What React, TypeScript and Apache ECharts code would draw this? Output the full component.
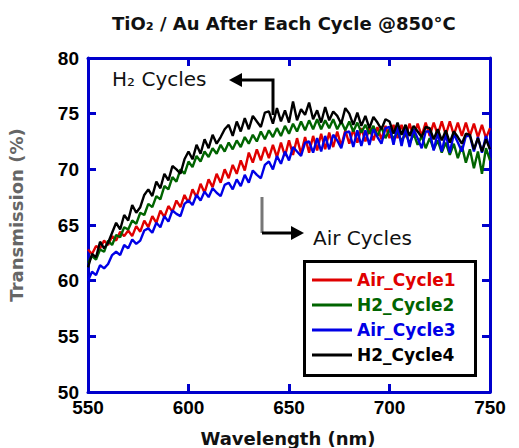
import React, { useEffect, useRef } from "react";
import * as echarts from "echarts";

// Sampling grid (nm), 2 nm steps from 550 to 750
const wavelengths: number[] = Array.from({ length: 101 }, (_, i) => 550 + i * 2);

const seriesNames = ["Air_Cycle1", "H2_Cycle2", "Air_Cycle3", "H2_Cycle4"];
const seriesColors = ["#e00000", "#006400", "#0000e6", "#000000"];

const airCycle1: number[] = [
  62.8, 62.4, 63.1, 62.9, 63.6, 63.2, 64.0, 63.6, 64.4, 64.0,
  64.5, 64.0, 64.9, 64.4, 65.4, 64.8, 65.8, 65.2, 66.3, 65.7,
  66.7, 66.2, 67.2, 66.6, 67.7, 67.0, 68.2, 67.5, 68.7, 67.9,
  69.1, 68.4, 69.6, 68.8, 70.0, 69.2, 70.4, 69.6, 70.8, 69.9,
  71.5, 70.6, 71.8, 70.8, 72.0, 71.0, 72.2, 71.1, 72.4, 71.2,
  72.6, 71.3, 72.8, 71.4, 72.9, 71.5, 73.0, 71.7, 73.2, 71.8,
  73.3, 72.0, 73.4, 72.1, 73.5, 72.3, 73.6, 72.4, 73.7, 72.5,
  73.7, 72.6, 73.8, 72.7, 73.9, 72.8, 74.0, 72.8, 74.0, 72.9,
  74.1, 72.9, 74.1, 73.0, 74.2, 73.0, 74.2, 73.1, 74.3, 73.1,
  74.3, 73.1, 74.2, 73.0, 74.2, 73.0, 74.1, 72.9, 74.0, 72.8,
  73.7,
];

const h2Cycle2: number[] = [
  61.6, 62.2, 61.9, 62.8, 62.6, 63.6, 63.2, 64.1, 63.9, 64.8,
  64.6, 65.4, 65.1, 66.1, 65.9, 66.9, 66.6, 67.6, 67.3, 68.5,
  68.2, 69.3, 68.9, 70.0, 69.6, 70.7, 70.2, 71.2, 70.7, 71.6,
  71.1, 71.9, 71.4, 72.2, 71.6, 72.4, 71.8, 72.6, 72.0, 72.9,
  72.3, 73.1, 72.5, 73.4, 72.7, 73.5, 72.9, 73.7, 73.0, 73.9,
  73.2, 74.1, 73.4, 74.3, 73.5, 74.4, 73.6, 74.5, 73.6, 74.4,
  73.7, 74.5, 73.6, 74.3, 73.5, 74.3, 73.4, 74.2, 73.3, 74.0,
  73.2, 73.9, 73.0, 73.8, 72.8, 73.6, 72.7, 73.4, 72.5, 73.3,
  72.3, 73.2, 72.2, 73.0, 71.9, 72.8, 71.8, 72.6, 71.5, 72.4,
  71.3, 72.3, 71.0, 72.1, 70.6, 71.8, 70.1, 71.6, 69.6, 71.9,
  70.8,
];

const airCycle3: number[] = [
  60.0, 60.8, 60.5, 61.4, 61.1, 61.5, 62.3, 62.6, 62.3, 63.2,
  62.9, 63.7, 63.3, 63.6, 64.5, 64.7, 64.3, 65.2, 64.8, 65.8,
  65.3, 66.3, 66.0, 65.8, 66.9, 67.2, 66.8, 67.7, 67.2, 68.0,
  67.5, 68.3, 67.9, 67.6, 68.6, 68.8, 68.2, 69.1, 68.5, 69.5,
  68.8, 69.9, 69.5, 69.2, 70.4, 70.7, 70.0, 71.2, 70.5, 71.6,
  70.8, 72.0, 71.6, 71.2, 72.4, 72.5, 71.5, 72.8, 71.6, 73.0,
  71.8, 73.1, 72.6, 71.9, 73.3, 73.4, 72.0, 73.5, 72.1, 73.5,
  72.2, 73.6, 72.9, 72.3, 73.7, 73.8, 72.2, 73.9, 72.1, 73.7,
  72.0, 73.6, 72.8, 71.9, 73.4, 73.4, 71.7, 73.3, 71.6, 73.2,
  71.5, 73.2, 72.4, 71.6, 73.0, 73.0, 71.6, 72.9, 71.5, 73.0,
  71.8,
];

const h2Cycle4: number[] = [
  61.2, 62.4, 62.1, 63.5, 62.9, 63.4, 64.3, 65.2, 64.6, 65.9,
  65.4, 66.8, 66.1, 66.6, 67.7, 68.2, 67.6, 68.9, 68.3, 69.6,
  69.0, 70.3, 70.0, 69.6, 70.9, 71.6, 70.9, 72.2, 71.4, 72.7,
  71.9, 73.1, 72.3, 72.9, 73.6, 74.0, 73.0, 74.3, 73.4, 74.6,
  73.6, 74.8, 74.3, 73.8, 75.1, 75.2, 74.1, 75.5, 74.3, 75.3,
  74.2, 76.1, 74.4, 75.4, 74.9, 76.0, 74.5, 75.3, 74.2, 75.6,
  74.4, 75.2, 74.8, 74.1, 75.5, 75.0, 74.0, 75.1, 73.9, 74.8,
  73.7, 74.7, 74.2, 73.6, 74.5, 74.3, 73.2, 74.2, 73.1, 74.0,
  73.0, 73.9, 73.4, 72.9, 73.8, 73.7, 72.7, 73.6, 72.6, 73.5,
  72.4, 73.4, 72.9, 72.3, 73.2, 73.1, 71.8, 72.8, 71.6, 72.7,
  71.8,
];

const seriesValues = [airCycle1, h2Cycle2, airCycle3, h2Cycle4];

const AXIS_BLUE = "#0000cc";
const SANS = "DejaVu Sans";
const ARIAL = "Liberation Sans";

export default function App() {
  const ref = useRef<HTMLDivElement>(null);

  useEffect(() => {
    if (!ref.current) return;
    const chart = echarts.init(ref.current, null, { renderer: "svg" });

    const frameLine = { show: true, onZero: false, lineStyle: { color: AXIS_BLUE, width: 3 } };
    const frameTick = { show: true, inside: true, length: 8, lineStyle: { color: AXIS_BLUE, width: 3 } };
    const tickFont = { fontFamily: ARIAL, fontWeight: "bold" as const, fontSize: 19, color: "#000" };

    chart.setOption({
      animation: false,
      backgroundColor: "#fff",
      title: {
        text: "TiO₂ / Au After Each Cycle @850°C",
        left: 107,
        top: 9,
        textStyle: { fontFamily: SANS, fontWeight: "bold", fontSize: 18, color: "#111" },
      },
      grid: { left: 88, right: 29, top: 58, bottom: 56 },
      xAxis: [
        {
          type: "value",
          position: "bottom",
          min: 550,
          max: 750,
          interval: 50,
          axisLine: frameLine,
          axisTick: frameTick,
          axisLabel: { ...tickFont, margin: 6 },
          splitLine: { show: false },
        },
        {
          type: "value",
          position: "top",
          min: 550,
          max: 750,
          interval: 50,
          axisLine: frameLine,
          axisTick: frameTick,
          axisLabel: { show: false },
          splitLine: { show: false },
        },
      ],
      yAxis: [
        {
          type: "value",
          position: "left",
          min: 50,
          max: 80,
          interval: 5,
          axisLine: frameLine,
          axisTick: frameTick,
          axisLabel: { ...tickFont, margin: 9 },
          splitLine: { show: false },
        },
        {
          type: "value",
          position: "right",
          min: 50,
          max: 80,
          interval: 5,
          axisLine: frameLine,
          axisTick: frameTick,
          axisLabel: { show: false },
          splitLine: { show: false },
        },
      ],
      legend: {
        orient: "vertical",
        left: 312,
        top: 270,
        padding: 0,
        itemGap: 5,
        itemWidth: 40,
        itemHeight: 3,
        icon: "rect",
        data: seriesNames.map((name, i) => ({
          name,
          textStyle: { color: seriesColors[i] },
        })),
        textStyle: { fontFamily: SANS, fontWeight: "bold", fontSize: 17, lineHeight: 20 },
      },
      series: seriesNames.map((name, i) => ({
        name,
        type: "line",
        xAxisIndex: 0,
        yAxisIndex: 0,
        symbol: "none",
        color: seriesColors[i],
        lineStyle: { color: seriesColors[i], width: 2.4 },
        data: wavelengths.map((w, j) => [w, seriesValues[i][j]]),
        z: 2 + i,
      })),
      graphic: [
        // axis titles
        {
          type: "text",
          x: 16,
          y: 215,
          rotation: Math.PI / 2,
          style: {
            text: "Transmission (%)",
            align: "center",
            verticalAlign: "middle",
            fontFamily: SANS,
            fontWeight: "bold",
            fontSize: 18,
            fill: "#666",
          },
        },
        {
          type: "text",
          x: 288,
          y: 438,
          style: {
            text: "Wavelength (nm)",
            align: "center",
            verticalAlign: "middle",
            fontFamily: SANS,
            fontWeight: "bold",
            fontSize: 18,
            fill: "#111",
          },
        },
        // legend frame
        {
          type: "rect",
          shape: { x: 304.5, y: 261.5, width: 171, height: 114 },
          style: { fill: "none", stroke: "#000", lineWidth: 3 },
          z: 10,
        },
        // H2 cycles callout
        {
          type: "text",
          x: 112,
          y: 79,
          style: {
            text: "H₂ Cycles",
            align: "left",
            verticalAlign: "middle",
            fontFamily: SANS,
            fontSize: 20,
            fill: "#111",
          },
        },
        {
          type: "polyline",
          shape: { points: [[238, 80], [273, 80], [273, 115]] },
          style: { stroke: "#000", lineWidth: 3, fill: "none" },
        },
        {
          type: "polygon",
          shape: { points: [[229, 80], [242, 73], [242, 87]] },
          style: { fill: "#000" },
        },
        // Air cycles callout
        {
          type: "line",
          shape: { x1: 262, y1: 197, x2: 262, y2: 233 },
          style: { stroke: "#777", lineWidth: 3 },
        },
        {
          type: "line",
          shape: { x1: 262, y1: 233, x2: 294, y2: 233 },
          style: { stroke: "#000", lineWidth: 3 },
        },
        {
          type: "polygon",
          shape: { points: [[304, 233], [291, 226], [291, 240]] },
          style: { fill: "#000" },
        },
        {
          type: "text",
          x: 313,
          y: 238,
          style: {
            text: "Air Cycles",
            align: "left",
            verticalAlign: "middle",
            fontFamily: SANS,
            fontSize: 20,
            fill: "#111",
          },
        },
      ],
    });

    return () => chart.dispose();
  }, []);

  return (
    <div
      ref={ref}
      style={{ position: "fixed", left: 0, top: 0, width: 519, height: 448 }}
    />
  );
}
